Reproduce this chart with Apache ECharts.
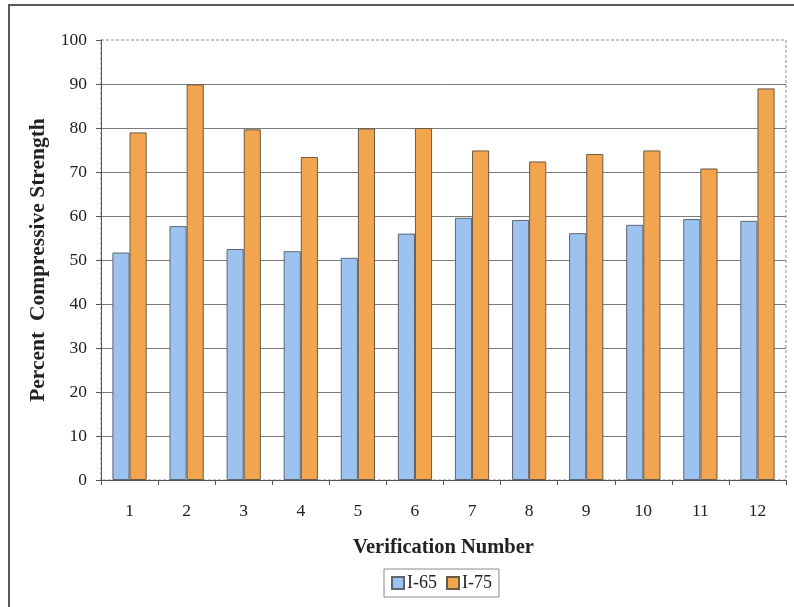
<!DOCTYPE html>
<html>
<head>
<meta charset="utf-8">
<style>
  html, body { margin: 0; padding: 0; background: #ffffff; }
  #chart { width: 794px; height: 607px; }
</style>
<script src="https://cdn.jsdelivr.net/npm/echarts@6/dist/echarts.min.js"></script>
</head>
<body>
<div id="chart"></div>
<script>
// Verification numbers along the x axis
const categories = ['1', '2', '3', '4', '5', '6', '7', '8', '9', '10', '11', '12'];
// Percent compressive strength per site
const i65 = [51.7, 57.7, 52.5, 52.0, 50.5, 56.0, 59.6, 59.1, 56.1, 58.0, 59.3, 58.9];
const i75 = [79.0, 89.9, 79.7, 73.4, 79.9, 80.0, 74.9, 72.4, 74.1, 74.9, 70.8, 89.0];
const seriesNames = ['I-65', 'I-75'];
const yTicks = { min: 0, max: 100, interval: 10 };

const serif = '"Liberation Serif", "DejaVu Serif", serif';
const chart = echarts.init(document.getElementById('chart'), null, { renderer: 'canvas' });

chart.setOption({
  animation: false,
  backgroundColor: '#ffffff',
  graphic: [
    {
      type: 'rect',
      shape: { x: 9, y: 5, width: 800, height: 620 },
      style: { fill: 'none', stroke: '#5a5a5a', lineWidth: 2 },
      silent: true,
      z: -10
    }
  ],
  grid: {
    left: 101, right: 8, top: 40, bottom: 127,
    show: true,
    borderColor: '#8a8a99',
    borderWidth: 1,
    borderType: [3, 2]
  },
  legend: {
    data: seriesNames,
    left: 384,
    top: 569,
    orient: 'horizontal',
    itemWidth: 12,
    itemHeight: 12,
    itemGap: 9,
    padding: [5, 7, 5, 7],
    borderColor: '#8a8a8a',
    borderWidth: 1,
    icon: 'rect',
    textStyle: { fontFamily: serif, fontSize: 18, color: '#222', padding: [0, 0, 0, -2] }
  },
  xAxis: {
    type: 'category',
    data: categories,
    name: 'Verification Number',
    nameLocation: 'middle',
    nameGap: 57,
    nameTextStyle: { fontFamily: serif, fontSize: 20.5, fontWeight: 'bold', color: '#222' },
    axisLine: { lineStyle: { color: '#555', width: 1 } },
    axisTick: { show: true, length: 5, lineStyle: { color: '#555' } },
    axisLabel: { fontFamily: serif, fontSize: 17.5, color: '#222', margin: 22 },
    splitLine: { show: false }
  },
  yAxis: {
    type: 'value',
    min: yTicks.min,
    max: yTicks.max,
    interval: yTicks.interval,
    name: 'Percent  Compressive Strength',
    nameLocation: 'middle',
    nameGap: 52,
    nameRotate: 90,
    nameTextStyle: { fontFamily: serif, fontSize: 21.5, fontWeight: 'bold', color: '#222' },
    axisLine: { show: true, lineStyle: { color: '#555', width: 1 } },
    axisTick: { show: true, length: 5, inside: false, lineStyle: { color: '#555' } },
    axisLabel: { fontFamily: serif, fontSize: 17.5, color: '#222', margin: 14 },
    splitLine: { show: true, showMaxLine: false, lineStyle: { color: '#7a7a7a', width: 1 } }
  },
  series: [
    {
      name: seriesNames[0],
      type: 'bar',
      data: i65,
      barGap: '0%',
      barCategoryGap: '40%',
      itemStyle: { color: '#9cc3f0', borderColor: '#5f6470', borderWidth: 1 }
    },
    {
      name: seriesNames[1],
      type: 'bar',
      data: i75,
      barGap: '0%',
      barCategoryGap: '40%',
      itemStyle: { color: '#f2a54e', borderColor: '#6a5a48', borderWidth: 1 }
    }
  ]
});
</script>
</body>
</html>
